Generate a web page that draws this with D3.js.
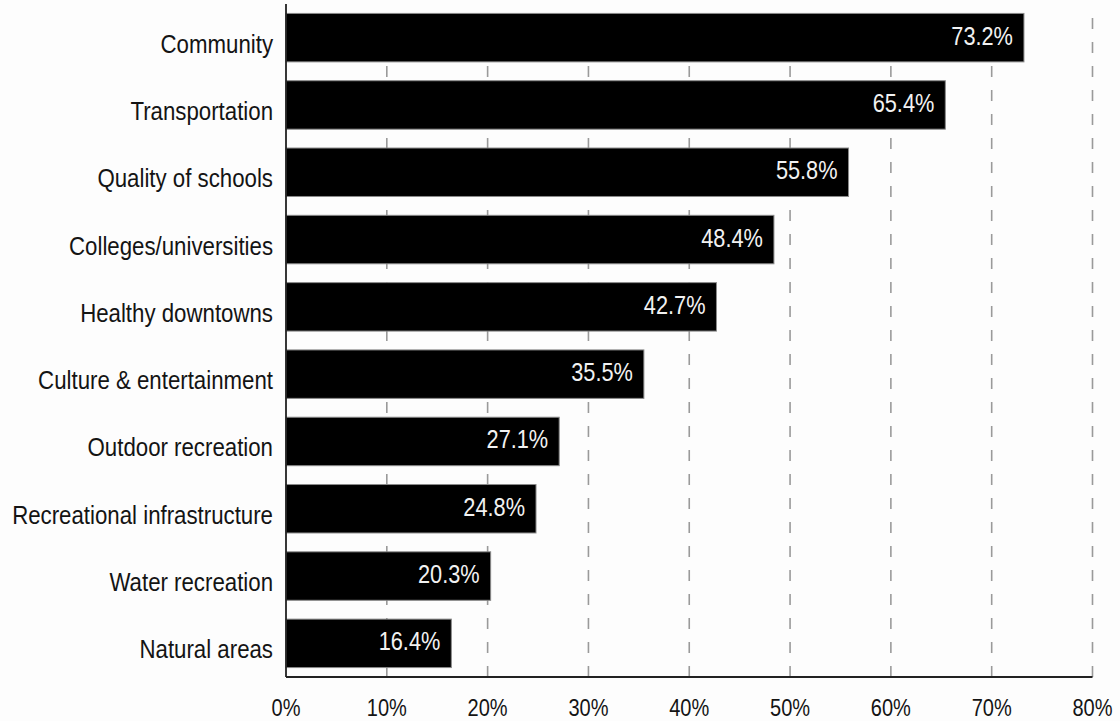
<!DOCTYPE html>
<html>
<head>
<meta charset="utf-8">
<script src="https://cdn.jsdelivr.net/npm/d3@7/dist/d3.min.js"></script>
<style>
  html, body { margin: 0; padding: 0; background: #fdfdfd; }
  svg { display: block; }
  text { font-family: "Liberation Sans", Arial, sans-serif; }
</style>
</head>
<body>
<svg id="chart" width="1120" height="721"></svg>
<script>
const categories = ["Community", "Transportation", "Quality of schools", "Colleges/universities",
  "Healthy downtowns", "Culture & entertainment", "Outdoor recreation",
  "Recreational infrastructure", "Water recreation", "Natural areas"];
const values = [73.2, 65.4, 55.8, 48.4, 42.7, 35.5, 27.1, 24.8, 20.3, 16.4];
const tickValues = [0, 10, 20, 30, 40, 50, 60, 70, 80];
const tickLabels = ["0%", "10%", "20%", "30%", "40%", "50%", "60%", "70%", "80%"];

const svg = d3.select("#chart");
const x = d3.scaleLinear().domain([0, 80]).range([286, 1092.5]);
const y = d3.scaleBand().domain(categories).range([4, 677]).paddingInner(0.28).paddingOuter(0.14);
const sx = 0.89;
const axisY = 677;

// gridlines (dashed)
svg.append("g").selectAll("line").data(tickValues.slice(1)).join("line")
  .attr("x1", d => x(d)).attr("x2", d => x(d))
  .attr("y1", axisY).attr("y2", y(categories[0]))
  .attr("stroke", "#9a9a9a").attr("stroke-width", 1.6)
  .attr("stroke-dasharray", "11,13");

// bars
svg.append("g").selectAll("rect").data(values).join("rect")
  .attr("x", x(0))
  .attr("y", (d, i) => y(categories[i]))
  .attr("width", d => x(d) - x(0))
  .attr("height", y.bandwidth())
  .attr("fill", "#000")
  .attr("stroke", "#8a8a8a").attr("stroke-width", 1);

// value labels
svg.append("g").selectAll("text").data(values).join("text")
  .attr("transform", (d, i) => `translate(${x(d) - 11},${y(categories[i]) + y.bandwidth() / 2 + 7}) scale(0.87,1)`)
  .attr("text-anchor", "end")
  .attr("font-size", 25)
  .attr("fill", "#f2f2f2")
  .text(d => d.toFixed(1) + "%");

// category labels
svg.append("g").selectAll("text").data(categories).join("text")
  .attr("transform", d => `translate(273,${y(d) + y.bandwidth() / 2 + 15}) scale(${sx},1)`)
  .attr("text-anchor", "end")
  .attr("font-size", 25)
  .attr("fill", "#141414")
  .text(d => d);

// axes lines
svg.append("line").attr("x1", x(0)).attr("x2", x(0)).attr("y1", 4).attr("y2", axisY)
  .attr("stroke", "#222").attr("stroke-width", 1.8);
svg.append("line").attr("x1", x(0)).attr("x2", x(80)).attr("y1", axisY).attr("y2", axisY)
  .attr("stroke", "#222").attr("stroke-width", 1.8);

// x tick labels
svg.append("g").selectAll("text").data(tickValues).join("text")
  .attr("transform", (d, i) => `translate(${x(d)},716) scale(0.87,1)`)
  .attr("text-anchor", "middle")
  .attr("font-size", 23)
  .attr("fill", "#141414")
  .text((d, i) => tickLabels[i]);
</script>
</body>
</html>
